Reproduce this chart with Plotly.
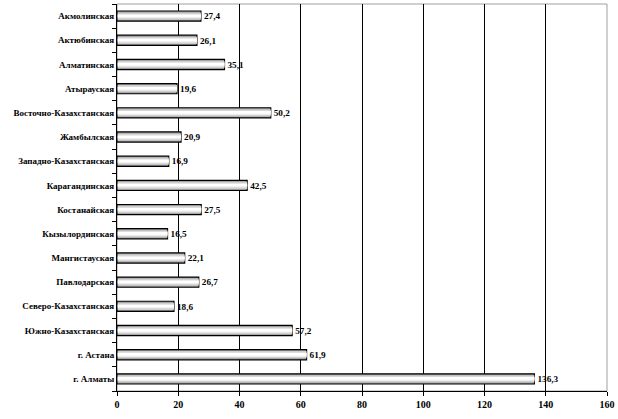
import plotly.graph_objects as go

regions = ["Акмолинская", "Актюбинская", "Алматинская", "Атырауская",
           "Восточно-Казахстанская", "Жамбылская", "Западно-Казахстанская",
           "Карагандинская", "Костанайская", "Кызылординская", "Мангистауская",
           "Павлодарская", "Северо-Казахстанская", "Южно-Казахстанская",
           "г. Астана", "г. Алматы"]
values = [27.4, 26.1, 35.1, 19.6, 50.2, 20.9, 16.9, 42.5, 27.5, 16.5, 22.1,
          26.7, 18.6, 57.2, 61.9, 136.3]
x_ticks = [0, 20, 40, 60, 80, 100, 120, 140, 160]

labels = [f"<b>{v:.1f}</b>".replace(".", ",") for v in values]
region_labels = [f"<b>{r}</b>" for r in regions]
font_family = "Liberation Serif"

fig = go.Figure()
# base bar with outline and value labels
fig.add_trace(go.Bar(
    x=values, y=regions, orientation="h",
    marker=dict(color="#9a9a9a", line=dict(color="#000000", width=1.2)),
    text=labels, textposition="outside", cliponaxis=False,
    textfont=dict(family=font_family, size=10, color="#000"),
    width=0.42, hoverinfo="x+y",
))
# gradient shading layers (same data, lighter cores)
for w, c in [(0.3, "#cfcfcf"), (0.18, "#ececec"), (0.08, "#ffffff")]:
    fig.add_trace(go.Bar(
        x=[v - 0.25 for v in values], base=[0.25] * len(values), y=regions,
        orientation="h", marker=dict(color=c, line=dict(width=0)),
        width=w, hoverinfo="skip",
    ))

fig.update_layout(
    width=618, height=419,
    barmode="overlay",
    margin=dict(l=117, r=11, t=4, b=28, autoexpand=False),
    paper_bgcolor="white", plot_bgcolor="white",
    showlegend=False,
    font=dict(family=font_family, size=9, color="#000"),
    shapes=[dict(type="rect", xref="paper", yref="paper", x0=0, x1=1, y0=0, y1=1,
                 line=dict(color="#a0a0a0", width=1), layer="below")],
)
fig.update_xaxes(range=[0, 160], tickvals=x_ticks,
                 ticktext=[f"<b>{t}</b>" for t in x_ticks],
                 showgrid=True, gridcolor="#000", automargin=False,
                 gridwidth=1, showline=True, linecolor="#000", linewidth=1,
                 ticks="outside", ticklen=4, tickcolor="#000", zeroline=False,
                 tickfont=dict(family=font_family, size=10, color="#000"))
fig.update_yaxes(categoryorder="array", categoryarray=regions, autorange="reversed",
                 tickvals=regions, ticktext=region_labels, automargin=False,
                 showline=True, linecolor="#000", linewidth=1, ticks="outside",
                 tickson="boundaries", ticklen=4, tickcolor="#000", showgrid=False,
                 tickfont=dict(family=font_family, size=9, color="#000"))

fig.write_html("out.html", config={"displayModeBar": False},
               post_script="document.body.style.margin='0';document.body.style.padding='0';")
